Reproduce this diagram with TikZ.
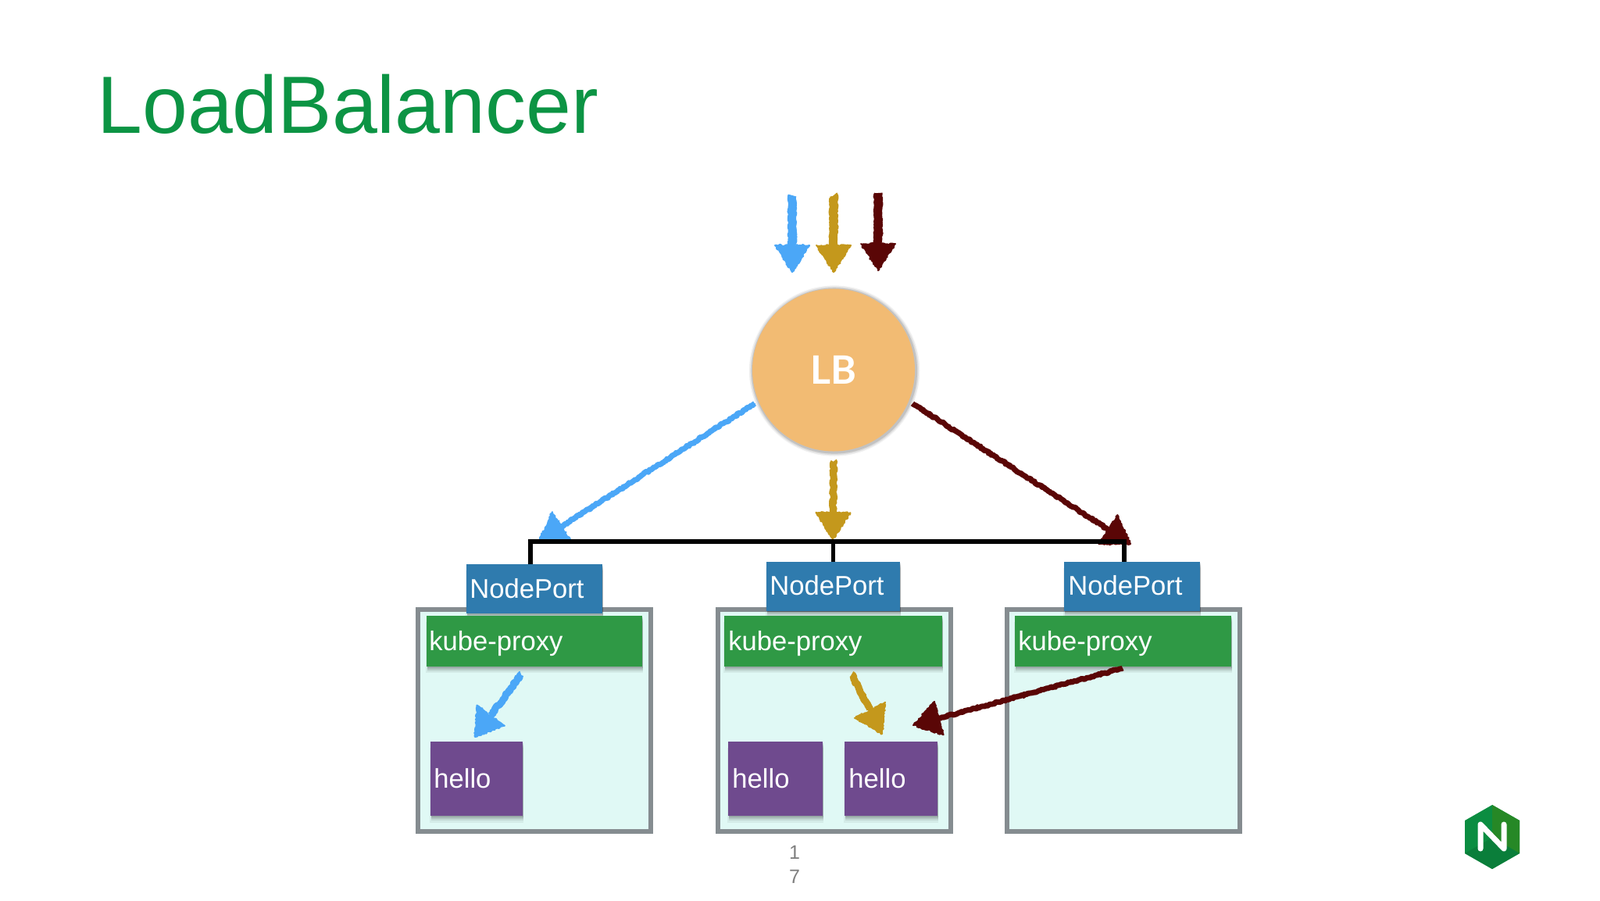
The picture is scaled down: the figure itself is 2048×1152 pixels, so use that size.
\documentclass[tikz,border=0pt]{standalone}
\usepackage{fontspec}
\setmainfont{Liberation Sans}
\newfontfamily\lbfont{Lato}
\newfontfamily\numfont{Liberation Sans}
\usetikzlibrary{calc,shadows,decorations.pathmorphing}
\definecolor{chalkblue}{HTML}{4BA7F7}
\definecolor{chalkgold}{HTML}{C4981C}
\definecolor{chalkred}{HTML}{5A0606}
\definecolor{lbfill}{HTML}{F2BB73}
\definecolor{npfill}{HTML}{2F7BAE}
\definecolor{kpfill}{HTML}{2F9945}
\definecolor{hellofill}{HTML}{6F4A8E}
\definecolor{hostfill}{HTML}{E0F9F5}
\definecolor{hostline}{HTML}{858C90}
\definecolor{titlegreen}{HTML}{0C9444}
\tikzset{
  softshadow/.style={
    general shadow={fill=black,opacity=.05,shadow yshift=-4pt,shadow xshift=0pt,shadow scale=1.01},
    general shadow={fill=black,opacity=.08,shadow yshift=-3pt,shadow xshift=.3pt},
    general shadow={fill=black,opacity=.10,shadow yshift=-2pt,shadow xshift=.3pt},
    general shadow={fill=black,opacity=.12,shadow yshift=-1pt,shadow xshift=.3pt}},
  hostbox/.style={rectangle,draw=hostline,line width=2.75pt,fill=hostfill,inner sep=0pt,outer sep=0pt,anchor=north west},
  npbox/.style={rectangle,fill=npfill,inner sep=0pt,outer sep=0pt,anchor=north west,softshadow},
  kpbox/.style={rectangle,fill=kpfill,inner sep=0pt,outer sep=0pt,anchor=north west,softshadow},
  hellobox/.style={rectangle,fill=hellofill,inner sep=0pt,outer sep=0pt,anchor=north west,softshadow},
  boxtext/.style={anchor=base west,inner sep=0pt,text=white,font=\fontsize{17.3}{19}\selectfont},
  chalkline/.style={decorate,decoration={random steps,segment length=.9pt,amplitude=.55pt},line join=round},
  bus/.style={draw=black,line width=2.6pt,line join=miter},
  pagenum/.style={inner sep=0pt,text=black!50,font=\numfont\fontsize{12.5}{14}\selectfont}
}
% colour, from, to, shaft width
\newcommand\chalkarrow[4]{
  \coordinate (tipbase) at ($(#3)!17pt!(#2)$);
  \draw[chalkline,draw=#1,line width=#4] (#2) -- (tipbase);
  \draw[chalkline,draw=#1,fill=#1,line width=1pt]
    ($(tipbase)!11pt!90:(#3)$) -- (#3) -- ($(tipbase)!11pt!-90:(#3)$) -- cycle;
}
% name, style, x1, y1, x2, y2
\newcommand\placebox[6]{
  \node[#2,minimum width={(#5-#3)*0.5pt},minimum height={(#6-#4)*0.5pt}] (#1) at (#3,#4) {};
}
\begin{document}
\begin{tikzpicture}[x=0.5pt,y=-0.5pt]
\useasboundingbox (0,0) rectangle (2048,1152);
\fill[white] (0,0) rectangle (2048,1152);

\node[anchor=base west,inner sep=0pt,text=titlegreen,font=\fontsize{52}{60}\selectfont] (title) at (124,170) {LoadBalancer};

% hosts
\placebox{host1}{hostbox}{535}{780}{833}{1064}
\placebox{host2}{hostbox}{919}{780}{1217}{1064}
\placebox{host3}{hostbox}{1289}{780}{1587}{1064}

% LB
\node[circle,fill=lbfill,inner sep=0pt,outer sep=0pt,minimum size=104pt,
  general shadow={fill=black,opacity=.06,shadow scale=1.05,shadow xshift=.5pt,shadow yshift=-.5pt},
  general shadow={fill=black,opacity=.08,shadow scale=1.035,shadow xshift=.5pt,shadow yshift=-.5pt},
  general shadow={fill=black,opacity=.12,shadow scale=1.02,shadow xshift=.5pt,shadow yshift=-.5pt}]
  (lb) at (1067,473.5) {};
\node[text=white,inner sep=0pt,font=\lbfont\bfseries\fontsize{25}{28}\selectfont] (lbtext) at (lb.center) {LB};

% incoming free ends
\coordinate (inAs) at (1014,250);
\coordinate (inAe) at (1014,348);
\coordinate (inBs) at (1067,250);
\coordinate (inBe) at (1067,348);
\coordinate (inCs) at (1124,247);
\coordinate (inCe) at (1124,346);
\chalkarrow{chalkblue}{inAs}{inAe}{5.5pt}
\chalkarrow{chalkgold}{inBs}{inBe}{5.5pt}
\chalkarrow{chalkred}{inCs}{inCe}{5.5pt}

% lb to bus
\coordinate (busA) at (690,692);
\coordinate (busB) at (1066,690);
\coordinate (busC) at (1447,696);
\coordinate (lbB) at ($(lb.south)+(0,13)$);
\chalkarrow{chalkblue}{$(lb.center)!1.055!(lb.203)$}{busA}{3.5pt}
\chalkarrow{chalkgold}{lbB}{busB}{4.5pt}
\chalkarrow{chalkred}{$(lb.center)!1.055!(lb.337)$}{busC}{3.5pt}

% NodePorts
\placebox{np1}{npbox}{597}{722}{771}{785}
\placebox{np2}{npbox}{981}{719}{1152}{782}
\placebox{np3}{npbox}{1362}{719}{1536}{782}
\node[boxtext] (nplabel1) at (601,765) {NodePort};
\node[boxtext] (nplabel2) at (985,761) {NodePort};
\node[boxtext] (nplabel3) at (1367,761) {NodePort};

% bus
\coordinate (busL) at (679,693);
\coordinate (busR) at (1439,693);
\draw[bus] (np1.north -| busL) -- (busL) -- (busR) -- (np3.north -| busR);
\draw[bus] (np2.north) -- (np2.north |- busL);

% kube-proxy
\placebox{kp1}{kpbox}{546}{788}{822}{853}
\placebox{kp2}{kpbox}{927}{788}{1206}{853}
\placebox{kp3}{kpbox}{1299}{788}{1576}{853}
\node[boxtext] (kplabel1) at (549,832) {kube-proxy};
\node[boxtext] (kplabel2) at (932,832) {kube-proxy};
\node[boxtext] (kplabel3) at (1303,832) {kube-proxy};

% hello
\placebox{h1}{hellobox}{551}{949}{669}{1044}
\placebox{h2}{hellobox}{932}{949}{1053}{1044}
\placebox{h3}{hellobox}{1081}{949}{1200}{1044}
\node[boxtext] (hlabel1) at (555,1008) {hello};
\node[boxtext] (hlabel2) at (937,1008) {hello};
\node[boxtext] (hlabel3) at (1086,1008) {hello};

% inner arrows
\coordinate (a1s) at (667,863);
\coordinate (a1e) at (608,943);
\coordinate (a2s) at (1090,863);
\coordinate (a2e) at (1129,939);
\coordinate (a3s) at (1437,855);
\coordinate (a3e) at (1169,928);
\chalkarrow{chalkblue}{a1s}{a1e}{4.5pt}
\chalkarrow{chalkgold}{a2s}{a2e}{4.5pt}
\chalkarrow{chalkred}{a3s}{a3e}{3.5pt}

% page number
\node[pagenum] (pagea) at (1017,1091) {1};
\node[pagenum] (pageb) at (1017,1122) {7};

% logo
\fill[fill=titlegreen!95!black] (1910,1030) -- (1945,1050) -- (1945,1092) -- (1910,1112) -- (1875,1092) -- (1875,1050) -- cycle;
\fill[fill=green!45!black!85!white] (1910,1030) -- (1945,1050) -- (1945,1092) -- (1910,1072) -- cycle;
\fill[fill=titlegreen!85!black] (1875,1092) -- (1910,1072) -- (1945,1092) -- (1910,1112) -- cycle;
\draw[white,line width=3.5pt,line cap=round,line join=round] (1895,1086) -- (1895,1055) -- (1925,1086) -- (1925,1055);
\end{tikzpicture}
\end{document}
